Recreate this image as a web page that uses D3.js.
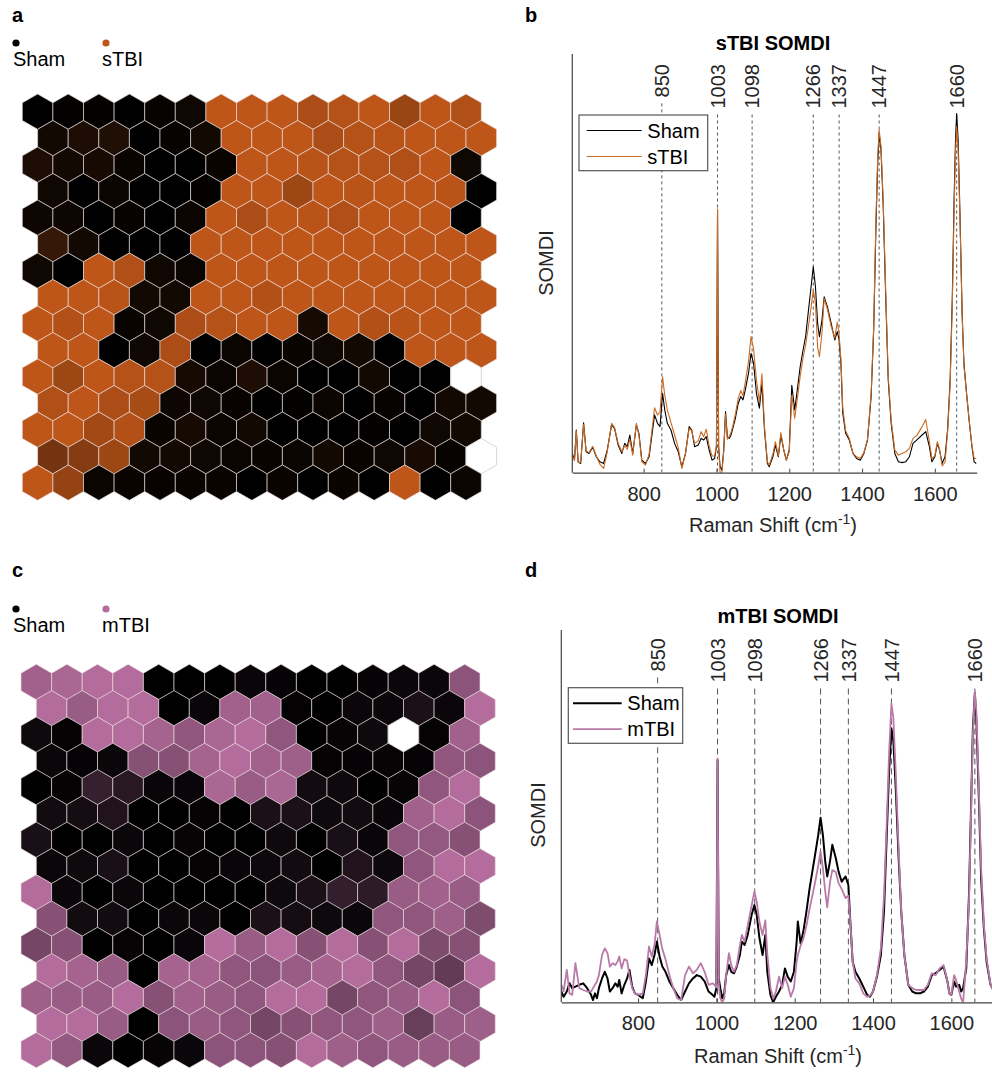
<!DOCTYPE html>
<html><head><meta charset="utf-8">
<script src="https://cdn.jsdelivr.net/npm/d3@7"></script>
<style>body{margin:0;background:#fff}svg{display:block;font-family:"Liberation Sans",Arial,Helvetica,sans-serif}</style>
</head><body><svg id="fig" width="992" height="1072"></svg>
<script>
// ---------- SOM hit maps: fraction of injured-group hits per node (-1 = empty node) ----------
const somSTBI = [
[0.0,0.02,0.02,0.0,0.03,0.08,1,1,1,0.9,0.95,1,0.8,1,0.92],
[0.1,0.15,0.17,0,0.03,0.1,1,1,1,0.9,0.95,0.97,1,1,1],
[0.15,0.1,0.12,0.05,0,0,0.05,1,1,0.97,0.95,0.95,0.92,1,0.08],
[0.08,0,0.06,0,0,0.02,1,1,0.82,1,0.97,1,1,0.97,0],
[0.07,0.07,0,0.03,0,0.06,1,0.9,1,0.97,0.92,1,1,1,0],
[0.28,0.1,0,0,0,1,1,1,1,1,1,1,1,1,1],
[0.08,0,1,0.92,0.08,0.06,1,1,1,1,1,1,1,1,1],
[1,1,0.97,0.1,0.1,1,1,0.93,1,1,1,1,1,1,1],
[1,0.93,1,0.05,0.08,0.9,0.95,1,1,0.12,1,0.93,0.97,1,1],
[1,1,0,0.08,0.9,0,0.06,0,0.05,0.08,0.1,0,1,1,1],
[1,0.82,1,0.95,0.95,0.12,0.06,0.15,0.06,0,0,0.1,0,0,-1],
[0.92,1,0.9,0.88,0.07,0.08,0.04,0,0.02,0.06,0,0.03,0,0.1,0.1],
[1,1,0.85,0.93,0.05,0.12,0.06,0.1,0,0,0,0.02,0,0.08,0.1],
[0.6,0.7,0.82,0.1,0.1,0.08,0.06,0.05,0.06,0.1,0.05,0.08,0.13,0.03,-1],
[1,0.78,0.06,0.05,0.04,0.05,0.05,0,0.05,0,0.05,0,1,0,0.06]
];
const somMTBI = [
[0.9,0.95,1,1,0,0,0,0.05,0.03,0,0,0.03,0.06,0.06,0.78],
[1,0.85,1,1,0,0.05,0.9,0.9,0.02,0,0.06,0.06,0.15,0.06,1],
[0.08,0.02,1,1,0.92,0.8,0.95,1,0.8,0,0.04,0.08,-1,0.02,0.9],
[0.06,0.03,0.06,0.75,0.75,0.92,1,0.9,0.88,0.02,0.03,0.04,0.03,0.8,0.78],
[0,0.02,0.3,0.22,0.05,0.05,0.95,0.85,0.95,0.1,0.08,0,0.04,0.8,1],
[0.1,0.12,0.18,0,0,0.02,0,0.15,0.15,0.08,0.1,0.05,0.9,1,0.78],
[0.14,0,0,0.06,0,0.04,0,0,0.08,0,0.14,0.05,0.8,0.82,0.75],
[0.06,0.08,0.14,0,0,0.02,0.05,0.07,0.1,0,0.18,0.07,0.8,1,1],
[1,0.06,0,0.06,0,0,0,0,0.08,0.15,0.28,0.25,0.85,0.9,0.85],
[0.75,0.1,0.1,0,0.06,0.06,0,0.15,0.12,0.08,0.06,0.8,0.8,0.88,0.7],
[0.65,0.75,0,0.04,0,0.05,1,0.85,1,0.75,1,0.75,1,0.7,0.75],
[1,0.92,0.85,0,0.92,0.92,0.8,0.78,0.85,0.92,1,0.8,0.65,0.55,1],
[0.88,0.85,0.85,1,0.75,0.9,0.85,0.8,1,1,0.65,0.8,0.85,1,0.78],
[1,1,0.85,0,0.78,0.85,0.8,0.65,0.75,0.8,0.8,0.88,0.58,0.85,0.88],
[1,0.82,0.06,0,0.04,0.06,0.78,0.78,0.75,1,0.88,0.8,0.85,0.85,0.85]
];

// ---------- SOMDI spectra ----------
const peaks = [850, 1003, 1098, 1266, 1337, 1447, 1660];
const xTicks = [800, 1000, 1200, 1400, 1600];

const shiftB = [604,610,615,620,627,635,642,650,660,670,680,690,700,712,720,730,740,748,755,762,770,780,787,795,805,815,830,838,845,852,858,865,875,885,895,905,915,925,932,940,950,958,965,972,980,988,995,1000,1003,1006,1010,1015,1020,1025,1030,1035,1040,1045,1052,1060,1067,1073,1080,1088,1095,1102,1110,1118,1125,1132,1140,1145,1155,1162,1170,1177,1185,1192,1200,1207,1215,1222,1230,1238,1245,1252,1260,1266,1272,1278,1283,1290,1296,1305,1315,1325,1332,1337,1342,1347,1355,1365,1375,1385,1395,1405,1415,1425,1432,1438,1443,1447,1452,1458,1465,1472,1480,1490,1500,1510,1520,1530,1540,1550,1565,1575,1585,1592,1600,1607,1613,1620,1628,1635,1642,1648,1653,1657,1660,1664,1669,1675,1680,1688,1695,1702,1708,1714];
const shamB = [4.6,3.0,10.2,2.6,2.2,11.9,5.0,4.6,6.1,3.8,2.6,2.2,5.4,11.4,10.6,6.6,4.6,7.0,6.2,9.0,4.6,11.4,9.4,3.0,2.2,3.8,13.8,11.8,11.0,18.9,15.0,11.8,10.2,7.0,5.0,1.4,4.6,11.0,10.2,6.2,6.6,8.2,7.8,8.6,5.4,3.0,3.4,6.2,62.7,6.2,1.4,0.6,5.4,14.6,8.6,8.2,9.0,10.6,13.0,16.6,18.2,17.4,20.1,23.7,28.5,26.1,18.9,15.4,21.3,10.2,2.2,1.4,3.8,6.6,3.8,9.0,5.4,3.0,5.4,20.9,15.0,19.7,25.3,29.3,32.5,38.1,44.4,49.2,44.4,35.7,32.5,36.5,42.0,39.6,35.7,31.7,33.7,31.7,26.1,14.2,9.4,7.8,4.6,3.4,3.0,4.6,7.8,18.2,34.1,58.0,73.9,81.1,77.1,64.3,42.0,22.1,11.8,4.6,2.6,2.4,2.6,3.8,7.0,7.8,9.0,9.8,6.2,2.6,3.8,7.0,5.4,2.2,3.8,10.2,22.1,42.0,65.9,80.3,85.8,79.5,61.9,38.1,26.1,18.2,11.8,6.2,2.6,2.2];
const sTBI = [4.0,3.0,10.0,2.6,2.4,11.5,5.2,4.8,6.3,4.0,2.0,1.0,5.0,11.8,10.8,7.0,5.0,6.5,5.6,8.0,4.2,11.8,9.0,2.6,1.8,4.4,15.5,13.8,14.5,22.9,18.5,15.0,12.0,9.0,6.0,1.0,4.6,10.6,10.0,7.0,7.6,9.8,8.6,10.4,6.4,4.0,4.0,6.5,63.0,6.0,0.0,0.0,5.0,14.0,8.0,8.6,9.6,11.2,14.0,17.8,19.6,18.4,22.0,26.5,32.5,29.6,22.0,17.0,23.6,11.0,2.6,1.8,4.4,7.4,4.0,9.6,5.4,3.0,5.0,18.5,13.0,17.5,23.0,27.5,30.5,34.5,39.5,43.6,40.5,30.0,27.7,33.5,41.6,39.0,35.0,32.2,36.0,33.0,27.0,15.5,10.0,8.2,4.6,3.8,3.4,4.8,8.0,19.0,35.0,60.0,75.5,81.9,78.0,65.5,43.5,23.0,12.6,5.4,4.2,4.6,5.0,5.8,8.2,8.8,11.0,12.7,7.4,3.4,4.0,7.4,5.6,1.6,2.5,9.6,21.0,40.0,63.0,77.0,82.6,77.0,60.5,37.5,25.5,18.0,12.0,6.4,3.4,3.4];

const shiftD = [604,610,618,625,632,640,650,660,670,680,685,690,695,700,708,715,722,728,735,742,748,752,758,765,772,778,785,792,800,812,820,828,835,842,848,855,862,870,880,890,900,910,920,930,940,950,960,970,980,990,995,1000,1003,1006,1010,1015,1020,1025,1032,1038,1045,1052,1060,1065,1072,1080,1090,1097,1103,1110,1118,1125,1130,1138,1145,1152,1160,1168,1175,1182,1190,1198,1205,1208,1215,1222,1230,1238,1245,1252,1260,1266,1272,1278,1283,1290,1296,1305,1312,1320,1330,1337,1342,1348,1355,1365,1375,1385,1392,1400,1410,1420,1428,1435,1441,1447,1452,1458,1465,1472,1480,1490,1500,1510,1520,1530,1540,1550,1560,1570,1580,1590,1595,1600,1607,1612,1620,1625,1630,1638,1645,1650,1655,1660,1664,1670,1676,1683,1690,1700,1714];
const shamD = [2.9,1.5,2.9,5.1,3.8,4.2,4.7,5.1,3.8,2.0,0.6,2.4,1.1,3.8,6.4,8.2,6.4,2.9,3.8,5.1,4.2,6.0,2.4,4.7,6.4,8.7,4.2,2.4,2.0,1.1,5.6,11.8,10.0,12.7,16.3,12.3,9.6,8.2,5.6,3.8,2.0,0.6,2.9,5.1,6.4,7.3,6.9,5.6,2.9,2.0,1.5,3.8,65.1,6.4,3.8,1.1,2.4,7.3,10.0,8.2,7.8,9.6,12.7,16.3,15.4,18.1,23.5,26.1,23.5,17.2,12.7,18.1,8.2,2.0,0.0,1.5,2.9,4.7,9.1,6.9,5.6,8.2,16.3,21.7,15.8,19.0,24.4,30.6,35.1,39.6,44.9,49.6,44.9,37.8,33.8,37.8,42.3,38.7,35.1,32.4,33.8,31.5,21.7,10.9,8.2,6.4,4.2,2.0,1.5,2.9,6.9,12.7,24.4,44.9,62.0,73.6,70.0,57.5,39.6,24.4,12.7,4.7,2.9,2.4,2.4,2.9,4.2,7.3,7.8,8.7,9.6,5.6,2.4,2.0,5.6,4.2,4.7,2.9,3.8,9.1,28.8,51.2,73.6,83.0,75.4,55.7,33.3,19.9,10.9,4.7,2.0];
const mTBI = [4.7,3.0,8.7,2.4,2.0,10.5,3.8,3.3,2.9,2.9,3.8,4.7,5.6,7.3,12.7,14.5,13.2,9.6,10.5,10.0,11.0,12.3,9.1,11.6,11.2,7.3,3.8,2.4,2.0,2.4,7.3,15.0,12.3,15.4,21.7,18.1,14.3,11.6,7.3,3.8,1.1,0.6,7.3,9.6,7.8,8.7,10.5,8.2,4.7,5.1,4.7,4.0,65.5,5.0,1.1,0.0,1.1,7.3,13.2,10.0,8.2,10.0,15.2,18.1,16.3,20.6,26.0,29.7,27.0,21.5,18.1,22.0,13.0,4.0,1.0,2.9,6.9,3.8,6.9,4.7,1.5,3.8,11.0,12.7,15.2,17.0,20.6,25.1,28.6,32.2,36.7,40.5,36.0,29.7,25.5,32.2,35.5,35.0,32.0,30.4,28.0,28.6,21.7,10.9,6.4,5.1,2.4,1.5,1.8,2.9,7.3,14.5,28.6,48.3,67.1,80.3,76.1,61.8,42.1,24.4,12.7,4.7,3.8,3.3,3.3,3.3,4.7,7.8,7.3,9.1,10.0,5.6,2.4,2.0,7.3,6.0,2.9,1.0,0.0,11.0,27.0,50.0,72.0,83.4,78.0,58.0,36.0,21.0,11.8,4.7,2.0];

// ---------- styles ----------
const ORANGE = "#BF5619", PINK = "#B46C9C";
const LINE_ORANGE = "#CD6A22", LINE_PINK = "#B97AA8";
const svg = d3.select("#fig");
const FONT = 20;

// ---------- hex maps ----------
function hexMap(data, colorFull, left, top, pitch, legendY, legendName) {
  const w = 30.6, hh = w / Math.sqrt(3); // half-height
  const xs = d3.scaleLinear().domain([0, 1]).range([left + w / 2, left + w / 2 + w]);
  const ys = d3.scaleLinear().domain([0, 1]).range([top + hh, top + hh + pitch]);
  const col = d3.interpolateRgb("#000000", colorFull);
  const cells = [];
  data.forEach((row, r) => row.forEach((v, c) => cells.push({r, c, v})));
  const hex = (cx, cy) => {
    const pts = [[0,-hh],[w/2,-hh/2],[w/2,hh/2],[0,hh],[-w/2,hh/2],[-w/2,-hh/2]];
    return "M" + pts.map(p => [cx + p[0], cy + p[1]].join(",")).join("L") + "Z";
  };
  const g = svg.append("g");
  g.selectAll("path").data(cells).join("path")
    .attr("d", d => hex(xs(d.c + (d.r % 2) * 0.5), ys(d.r)))
    .attr("fill", d => d.v < 0 ? "#ffffff" : col(d.v))
    .attr("stroke", d => d.v < 0 ? "#d8d8d8" : "rgba(235,225,225,0.62)")
    .attr("stroke-width", 1);
  const lg = svg.append("g").attr("font-size", FONT);
  lg.append("circle").attr("cx", 16).attr("cy", legendY).attr("r", 3.6).attr("fill", "#000");
  lg.append("text").attr("x", 13).attr("y", legendY + 23).text("Sham");
  lg.append("circle").attr("cx", 106).attr("cy", legendY).attr("r", 3.6).attr("fill", colorFull);
  lg.append("text").attr("x", 102).attr("y", legendY + 23).text(legendName);
}
hexMap(somSTBI, ORANGE, 22.3, 94, 26.5, 43, "sTBI");
hexMap(somMTBI, PINK, 21, 664.3, 26.3, 609, "mTBI");

// panel letters
[["a",12,22],["b",525,22],["c",12,577],["d",525,577]].forEach(([t,x,y]) =>
  svg.append("text").attr("x", x).attr("y", y).attr("font-size", 20).attr("font-weight", "bold").text(t));

// ---------- spectra ----------
function spectrum(opt) {
  const x = d3.scaleLinear().domain([604, 1715]).range([opt.x0, opt.x1]);
  const y = d3.scaleLinear().domain([0, 100]).range([opt.yb, opt.yt]);
  const g = svg.append("g");
  const clipId = "clip" + opt.id;
  svg.append("clipPath").attr("id", clipId).append("rect")
    .attr("x", opt.x0).attr("y", opt.yt - 5).attr("width", opt.x1 - opt.x0).attr("height", opt.yb - opt.yt + 5);

  peaks.forEach(p => {
    const px = x(p);
    const t = g.append("text").attr("transform", `translate(${px},${opt.labelTop}) rotate(-90)`)
      .attr("text-anchor", "end").attr("dy", "0.36em").attr("font-size", FONT).attr("fill", "#262626").text(p);
    const len = t.node().getComputedTextLength();
    g.append("line").attr("x1", px).attr("x2", px).attr("y1", opt.labelTop + len + 6).attr("y2", opt.yb)
      .attr("stroke", "#555").attr("stroke-width", 1).attr("stroke-dasharray", opt.dash);
  });

  const line = d3.line().x(d => x(d[0])).y(d => y(d[1]));
  const lg = g.append("g").attr("clip-path", `url(#${clipId})`);
  lg.append("path").datum(opt.shift.map((s, i) => [s, opt.sham[i]]))
    .attr("d", line).attr("fill", "none").attr("stroke", "#000").attr("stroke-width", opt.wSham).attr("stroke-linejoin", "round");
  lg.append("path").datum(opt.shift.map((s, i) => [s, opt.inj[i]]))
    .attr("d", line).attr("fill", "none").attr("stroke", opt.injColor).attr("stroke-width", opt.wInj).attr("stroke-linejoin", "round");

  const xa = g.append("g").attr("transform", `translate(0,${opt.yb})`)
    .call(d3.axisBottom(x).tickValues(xTicks).tickFormat(d3.format("d")).tickSize(-4).tickPadding(10).tickSizeOuter(0));
  xa.select(".domain").attr("stroke", "#444").attr("stroke-width", 1.2);
  xa.selectAll(".tick line").attr("stroke", "#444");
  xa.selectAll("text").attr("font-size", FONT).attr("fill", "#262626").attr("font-family", "inherit").attr("dy", "0.9em");
  g.append("line").attr("x1", opt.x0).attr("x2", opt.x0).attr("y1", opt.yt).attr("y2", opt.yb)
    .attr("stroke", "#444").attr("stroke-width", 1.2);

  g.append("text").attr("x", opt.cx).attr("y", opt.titleY).attr("text-anchor", "middle")
    .attr("font-size", FONT).attr("font-weight", "bold").text(opt.title);
  const xl = g.append("text").attr("x", opt.cx).attr("y", opt.xlabY).attr("text-anchor", "middle")
    .attr("font-size", FONT).attr("fill", "#262626");
  xl.append("tspan").text("Raman Shift (cm");
  xl.append("tspan").attr("dy", -8).attr("font-size", 14).text("-1");
  xl.append("tspan").attr("dy", 8).text(")");
  g.append("text").attr("transform", `translate(${opt.ylabX},${opt.ylabY}) rotate(-90)`)
    .attr("text-anchor", "middle").attr("font-size", FONT).attr("fill", "#262626").text("SOMDI");

  const L = opt.legend;
  const leg = g.append("g");
  leg.append("rect").attr("x", L.x).attr("y", L.y).attr("width", L.w).attr("height", L.h)
    .attr("fill", "#fff").attr("stroke", "#555").attr("stroke-width", 1.2);
  [["Sham", "#000", opt.wSham], [opt.name, opt.injColor, opt.wInj]].forEach(([n, c, sw], i) => {
    const yy = L.y + 15.5 + i * 26;
    leg.append("line").attr("x1", L.x + L.l0).attr("x2", L.x + L.l1).attr("y1", yy).attr("y2", yy)
      .attr("stroke", c).attr("stroke-width", sw);
    leg.append("text").attr("x", L.x + L.t).attr("y", yy).attr("dy", "0.36em").attr("font-size", FONT).text(n);
  });
}

spectrum({id: "b", x0: 572.3, x1: 976.7, yb: 472.7, yt: 54, shift: shiftB, sham: shamB, inj: sTBI,
  injColor: LINE_ORANGE, wSham: 1.1, wInj: 1.1, name: "sTBI", title: "sTBI SOMDI", dash: "3,3",
  labelTop: 64, cx: 773, titleY: 50, xlabY: 532, ylabX: 553, ylabY: 263,
  legend: {x: 579, y: 115, w: 128.7, h: 55.7, l0: 7.7, l1: 62.7, t: 68.3}});
spectrum({id: "d", x0: 561.3, x1: 996.4, yb: 1002.3, yt: 630, shift: shiftD, sham: shamD, inj: mTBI,
  injColor: LINE_PINK, wSham: 2, wInj: 1.8, name: "mTBI", title: "mTBI SOMDI", dash: "6,4",
  labelTop: 638, cx: 778, titleY: 623, xlabY: 1063, ylabX: 545, ylabY: 815,
  legend: {x: 568.3, y: 687.7, w: 114.4, h: 55.6, l0: 4.7, l1: 53.4, t: 59}});
</script></body></html>
